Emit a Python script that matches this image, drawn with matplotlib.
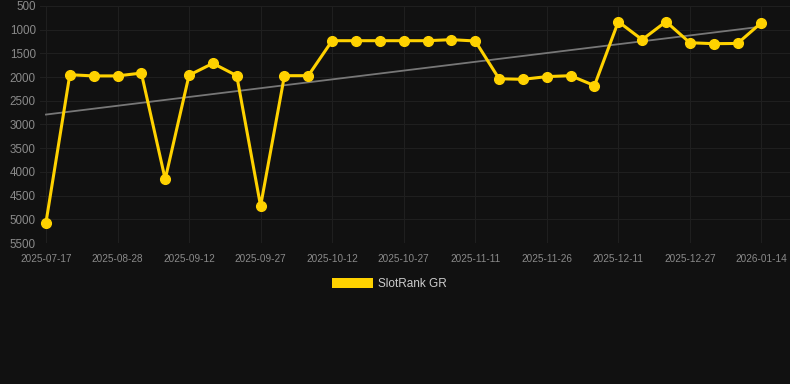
import numpy as np
import matplotlib.pyplot as plt
from matplotlib.patches import Patch

# rank values per data point (lower is better, axis inverted)
ranks = [5070, 1950, 1975, 1975, 1915, 4155, 1960, 1710, 1970, 4720,
         1970, 1970, 1232, 1232, 1232, 1232, 1232, 1210, 1238, 2035,
         2047, 1990, 1970, 2180, 830, 1210, 830, 1275, 1295, 1290, 852]
tick_labels = ['2025-07-17', '2025-08-28', '2025-09-12', '2025-09-27', '2025-10-12',
               '2025-10-27', '2025-11-11', '2025-11-26', '2025-12-11', '2025-12-27',
               '2026-01-14']
y_ticks = [500, 1000, 1500, 2000, 2500, 3000, 3500, 4000, 4500, 5000, 5500]

bg = '#111111'
fig = plt.figure(figsize=(7.9, 3.84), dpi=100, facecolor=bg)
ax = fig.add_axes([40 / 790, (384 - 243) / 384, 750 / 790, 237 / 384])
ax.set_facecolor(bg)

x = np.arange(len(ranks))
ax.plot(x, ranks, color='#FFD200', lw=2.2, marker='o', ms=7, zorder=3)

# linear trend
k, b = np.polyfit(x, ranks, 1)
ax.plot([x[0], x[-1]], [k * x[0] + b, k * x[-1] + b], color='#777777', lw=1.3, zorder=2)

ax.set_ylim(5500, 500)
ax.set_xlim(-0.25, 31.2)
ax.set_yticks(y_ticks)
ax.set_yticklabels([str(v) for v in y_ticks])
ax.set_xticks(x[::3])
ax.set_xticklabels(tick_labels)

ax.grid(True, color='#1f1f1f', lw=0.8)
ax.set_axisbelow(True)
for s in ax.spines.values():
    s.set_visible(False)
ax.tick_params(length=0, colors='#8a8a8a')
for t in ax.get_yticklabels():
    t.set_fontsize(8.4)
    t.set_family('Liberation Sans')
for t in ax.get_xticklabels():
    t.set_fontsize(7.2)
    t.set_family('Liberation Sans')
ax.tick_params(axis='y', pad=3)
ax.tick_params(axis='x', pad=8)

handle = Patch(facecolor='#FFD200', edgecolor='none')
fig.legend([handle], ['SlotRank GR'], loc='center', bbox_to_anchor=(389.5 / 790, (384 - 284) / 384),
           frameon=False, handlelength=3.4, handleheight=0.9, handletextpad=0.45,
           prop={'family': 'Liberation Sans', 'size': 8.5}, labelcolor='#cccccc')

fig.savefig('out.png', dpi=100, facecolor=bg)
